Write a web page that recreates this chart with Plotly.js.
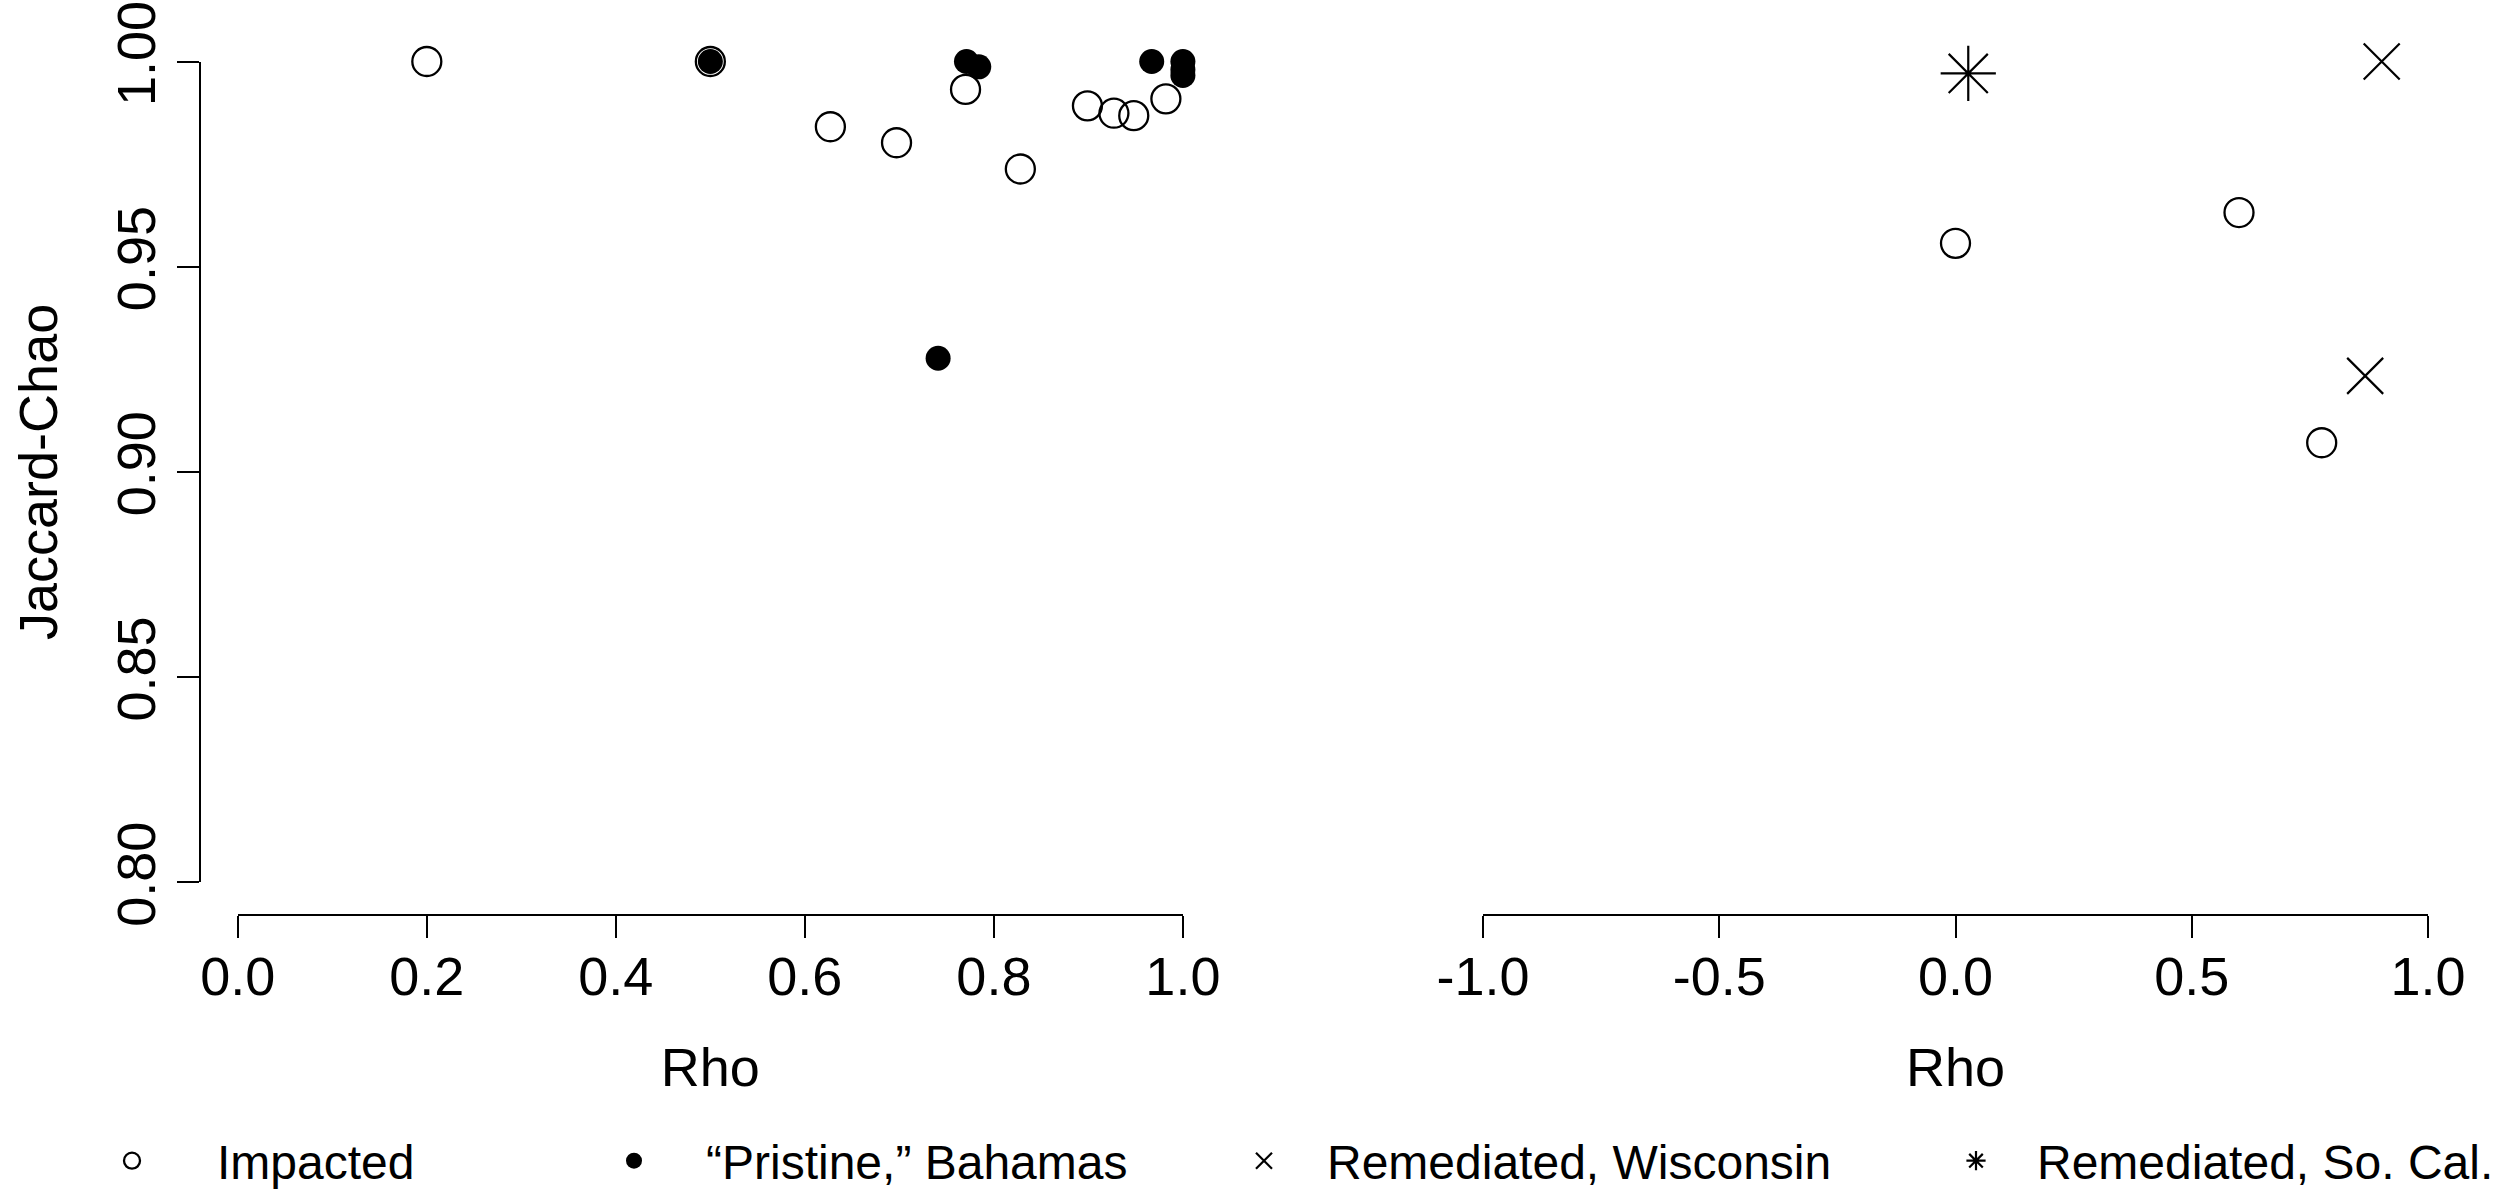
<!DOCTYPE html>
<html>
<head>
<meta charset="utf-8">
<script src="https://cdn.plot.ly/plotly-3.0.1.min.js"></script>
<style>
html,body{margin:0;padding:0;background:#ffffff;}
#chart{width:2503px;height:1189px;}
</style>
</head>
<body>
<div id="chart"></div>
<script>
// ---- data ----
const impactedRhoLeft = [0.200, 0.500, 0.627, 0.697, 0.770, 0.828, 0.899, 0.927, 0.948, 0.982];
const impactedJCLeft  = [1.000, 1.000, 0.9841, 0.9802, 0.9932, 0.9738, 0.9892, 0.9874, 0.9868, 0.9909];
const pristineRho     = [0.500, 0.771, 0.784, 0.741, 0.967, 1.000, 1.000, 1.000];
const pristineJC      = [1.000, 1.000, 0.9987, 0.9277, 1.000, 1.000, 0.998, 0.9966];
const impactedRhoRight = [0.000, 0.600, 0.775];
const impactedJCRight  = [0.9557, 0.9632, 0.9071];
const wisconsinRho = [0.902, 0.867];
const wisconsinJC  = [1.000, 0.9234];
const soCalRho = [0.027];
const soCalJC  = [0.9971];

const yTickVals  = [0.80, 0.85, 0.90, 0.95, 1.00];
const yTickText  = ['0.80', '0.85', '0.90', '0.95', '1.00'];
const xLeftTickVals  = [0.0, 0.2, 0.4, 0.6, 0.8, 1.0];
const xLeftTickText  = ['0.0', '0.2', '0.4', '0.6', '0.8', '1.0'];
const xRightTickVals = [-1.0, -0.5, 0.0, 0.5, 1.0];
const xRightTickText = ['-1.0', '-0.5', '0.0', '0.5', '1.0'];

const seriesNames = ['Impacted', '\u201CPristine,\u201D Bahamas', 'Remediated, Wisconsin', 'Remediated, So. Cal.'];
const xTitle = 'Rho';
const yTitle = 'Jaccard-Chao';

// ---- layout helpers (pixel -> paper) ----
const W = 2503, H = 1189;
const px = v => v / W;
const py = v => 1 - v / H;
const FONT = 'Liberation Sans, Arial, Helvetica, sans-serif';

const openCircle = {symbol: 'circle-open', size: 29, color: '#000', line: {color: '#000', width: 2.3}};
const filledCircle = {symbol: 'circle', size: 25, color: '#000', line: {color: '#000', width: 0}};
const xMark = {symbol: 'x-thin-open', size: 36, color: '#000', line: {color: '#000', width: 2.2}};
const starMark = {symbol: 'asterisk-open', size: 46, color: '#000', line: {color: '#000', width: 2.2}};

const traces = [
  {x: impactedRhoLeft, y: impactedJCLeft, xaxis: 'x', yaxis: 'y', type: 'scatter', mode: 'markers',
   name: seriesNames[0], marker: openCircle, cliponaxis: false, legend: 'legend'},
  {x: impactedRhoRight, y: impactedJCRight, xaxis: 'x2', yaxis: 'y', type: 'scatter', mode: 'markers',
   name: seriesNames[0], marker: openCircle, cliponaxis: false, showlegend: false, legend: 'legend'},
  {x: pristineRho, y: pristineJC, xaxis: 'x', yaxis: 'y', type: 'scatter', mode: 'markers',
   name: seriesNames[1], marker: filledCircle, cliponaxis: false, legend: 'legend2'},
  {x: wisconsinRho, y: wisconsinJC, xaxis: 'x2', yaxis: 'y', type: 'scatter', mode: 'markers',
   name: seriesNames[2], marker: xMark, cliponaxis: false, legend: 'legend3'},
  {x: soCalRho, y: soCalJC, xaxis: 'x2', yaxis: 'y', type: 'scatter', mode: 'markers',
   name: seriesNames[3], marker: starMark, cliponaxis: false, legend: 'legend4'}
];

const axisCommon = {
  showgrid: false, zeroline: false, showline: true, linecolor: '#000', linewidth: 2,
  ticks: 'outside', ticklen: 22, tickwidth: 2, tickcolor: '#000',
  tickfont: {family: FONT, size: 54, color: '#000'}, fixedrange: true
};

const legendCommon = {
  orientation: 'h', yanchor: 'middle', xanchor: 'left', y: py(1161),
  font: {family: FONT, size: 48, color: '#000'}, bgcolor: 'rgba(0,0,0,0)', borderwidth: 0
};

const layout = {
  width: W, height: H,
  margin: {l: 0, r: 0, t: 0, b: 0, pad: 0, autoexpand: false},
  paper_bgcolor: '#fff', plot_bgcolor: '#fff',
  font: {family: FONT, color: '#000'},
  xaxis: Object.assign({}, axisCommon, {
    domain: [px(237.8), px(1182.9)], range: [0, 1], anchor: 'free', position: py(915),
    tickvals: xLeftTickVals, ticktext: xLeftTickText, ticklabelstandoff: -8,
    title: {text: xTitle, font: {family: FONT, size: 54, color: '#000'}, standoff: 42}
  }),
  xaxis2: Object.assign({}, axisCommon, {
    domain: [px(1483), px(2428)], range: [-1, 1], anchor: 'free', position: py(915),
    tickvals: xRightTickVals, ticktext: xRightTickText, ticklabelstandoff: -8,
    title: {text: xTitle, font: {family: FONT, size: 54, color: '#000'}, standoff: 42}
  }),
  yaxis: Object.assign({}, axisCommon, {
    domain: [py(882.3), py(61.5)], range: [0.8, 1.0], anchor: 'free', position: px(199.5),
    tickvals: yTickVals, ticktext: yTickText, tickangle: -90,
    title: {text: yTitle, font: {family: FONT, size: 54, color: '#000'}, standoff: 30}
  }),
  showlegend: true,
  legend:  Object.assign({}, legendCommon, {x: px(47),   itemwidth: 160}),
  legend2: Object.assign({}, legendCommon, {x: px(562),  itemwidth: 134}),
  legend3: Object.assign({}, legendCommon, {x: px(1201), itemwidth: 116}),
  legend4: Object.assign({}, legendCommon, {x: px(1915), itemwidth: 112})
};

Plotly.newPlot('chart', traces, layout, {displayModeBar: false, staticPlot: true});
</script>
</body>
</html>
